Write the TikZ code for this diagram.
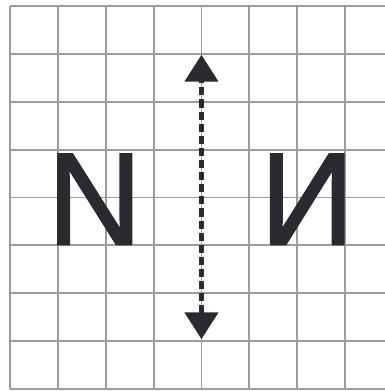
\documentclass[tikz,border=0pt]{standalone}
\usepackage{fontspec}
\setmainfont{Liberation Sans}
\newfontfamily\letterfont[FakeBold=1.6]{Liberation Sans}
\usepackage{xcolor}
\usepackage{tikz}
\usetikzlibrary{arrows.meta, positioning}
\definecolor{gridgray}{HTML}{9C9C9C}
\definecolor{inkdark}{HTML}{2A2B30}

\begin{document}
\begin{tikzpicture}
    \useasboundingbox (-0.208,-0.042) rectangle (7.833,8.125);
    \fill[white] (-0.208,-0.042) rectangle (7.833,8.125);
    \draw[gridgray, line width=1.1pt] (0,0) grid[step=1] (7.833,8);
    \draw[gridgray, line width=1.1pt] (0,0) -- (7.833,0);
    \draw[gridgray, line width=1.1pt] (0,8) -- (7.833,8);

    \node[inkdark, inner sep=0pt, anchor=base, font=\letterfont\fontsize{78}{80}\selectfont] (letterN) at (1.77,3.02) {N};
    \node[inkdark, inner sep=0pt, anchor=base, font=\letterfont\fontsize{78}{80}\selectfont] (letterI) at (6.21,3.02) {И};

    \coordinate (tipup) at (4,6.98);
    \coordinate (tipdown) at (4,1.04);
    \draw[{Triangle[width=0.69cm, length=0.56cm]}-{Triangle[width=0.69cm, length=0.56cm]}, inkdark, line width=2.6pt, dash pattern=on 4.8pt off 2.4pt]
        (tipdown) -- (tipup);
\end{tikzpicture}
\end{document}
